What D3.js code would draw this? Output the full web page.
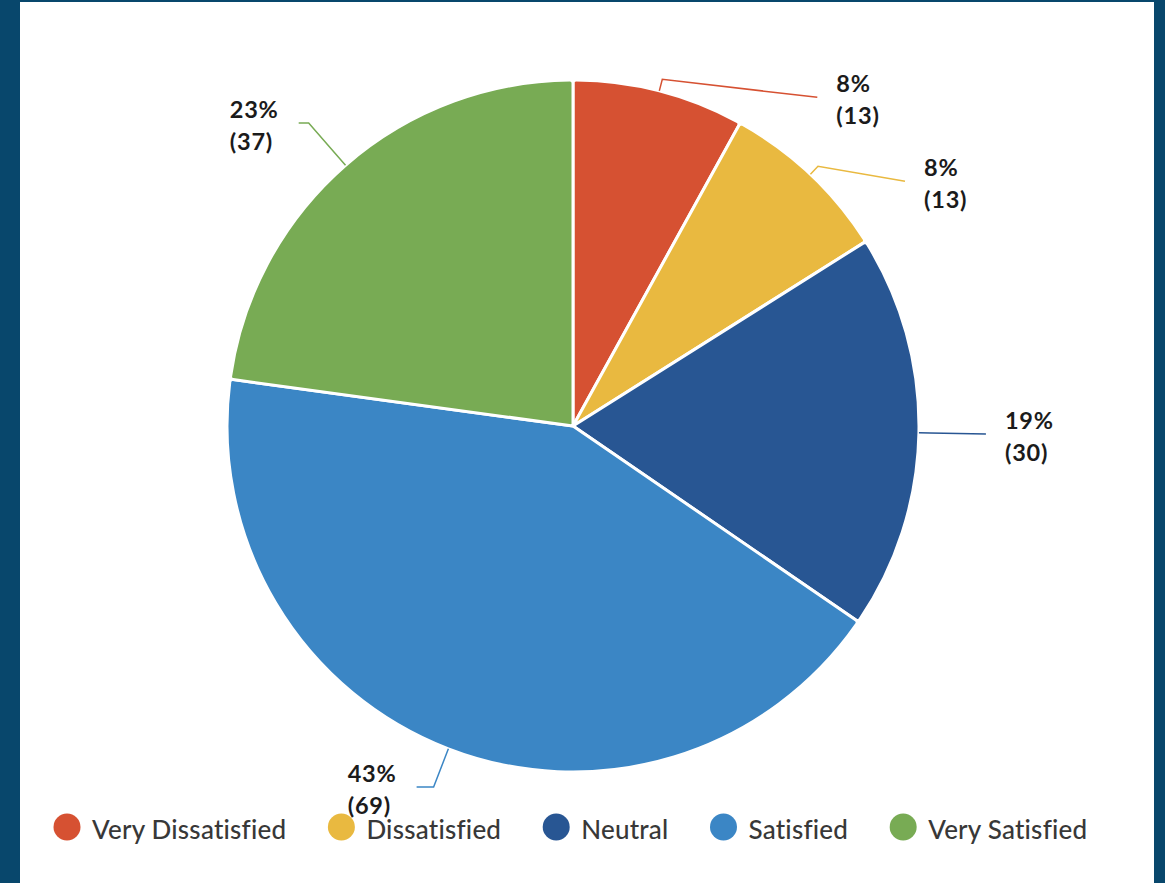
<!DOCTYPE html>
<html>
<head>
<meta charset="utf-8">
<script src="https://cdn.jsdelivr.net/npm/d3@7"></script>
<style>
  html, body { margin: 0; padding: 0; background: #08476c; }
  svg { display: block; }
  text { font-variant-ligatures: none; }
</style>
</head>
<body>
<svg id="chart" width="1165" height="883"></svg>
<script>
// Satisfaction survey responses
const categories = ["Very Dissatisfied", "Dissatisfied", "Neutral", "Satisfied", "Very Satisfied"];
const counts = [13, 13, 30, 69, 37];
const colors = ["#d65132", "#e9b940", "#285693", "#3b86c5", "#78ab54"];

// Leader-line routing per slice: radial extension past the rim, then the tail offset
const leaderExt = [12, 11, 11, 41, 56];
const leaderTail = [[155, 18], [87, 15], [56, 1], [-17, 0], [-10, 0]];

const W = 1165, H = 883;
const svg = d3.select("#chart");

// white card
svg.append("rect").attr("x", 20).attr("y", 2).attr("width", 1134).attr("height", H - 2).attr("fill", "#ffffff");

const cx = 573, cy = 426, R = 346;
const total = d3.sum(counts);
const data = categories.map((c, i) => ({ name: c, value: counts[i], color: colors[i], i }));

const pie = d3.pie().value(d => d.value).sort(null);
const arcs = pie(data);
const arc = d3.arc().innerRadius(0).outerRadius(R).cornerRadius(3);

const g = svg.append("g").attr("transform", `translate(${cx},${cy})`);

g.selectAll("path.slice")
  .data(arcs)
  .join("path")
  .attr("class", "slice")
  .attr("d", arc)
  .attr("fill", d => d.data.color)
  .attr("stroke", "#ffffff")
  .attr("stroke-width", 3)
  .attr("stroke-linejoin", "round");

const fmtPct = v => Math.round(v / total * 100) + "%";

// legend
const legend = svg.append("g");
let x = 67;
const ly = 827;
data.forEach(d => {
  legend.append("circle").attr("cx", x).attr("cy", ly).attr("r", 13.5).attr("fill", d.color);
  const t = legend.append("text")
    .attr("x", x + 25)
    .attr("y", ly + 12)
    .attr("font-family", "Lato, 'Open Sans', sans-serif")
    .attr("font-weight", 500)
    .attr("font-size", 26)
    .attr("letter-spacing", 0.22)
    .attr("fill", "#383838")
    .text(d.name);
  x = x + 25 + t.node().getComputedTextLength() + 55;
});

// value labels with leader lines, drawn over the legend
const labels = svg.append("g").attr("transform", `translate(${cx},${cy})`);
arcs.forEach((a, i) => {
  const mid = (a.startAngle + a.endAngle) / 2;
  const p = r => [Math.sin(mid) * r, -Math.cos(mid) * r];
  const p0 = p(R);
  const p1 = p(R + leaderExt[i]);
  const p2 = [p1[0] + leaderTail[i][0], p1[1] + leaderTail[i][1]];
  labels.append("path")
    .attr("d", d3.line()([p0, p1, p2]))
    .attr("fill", "none")
    .attr("stroke", a.data.color)
    .attr("stroke-width", 1.5);

  const right = p2[0] >= p1[0];
  const lbl = labels.append("g");
  const lines = [fmtPct(a.data.value), "(" + a.data.value + ")"];
  const texts = lbl.selectAll("text").data(lines).join("text")
    .attr("x", 0)
    .attr("y", (d, k) => k * 32)
    .attr("font-family", "Lato, 'Open Sans', sans-serif")
    .attr("font-weight", 700)
    .attr("font-size", 23.5)
    .attr("letter-spacing", 0.8)
    .attr("fill", "#1b1b1b")
    .text(d => d);
  let bw = 0;
  texts.each(function () { bw = Math.max(bw, this.getComputedTextLength()); });
  const tx = right ? p2[0] + 19 : p2[0] - 20 - bw;
  lbl.attr("transform", `translate(${tx},${p2[1] - 5})`);
});
</script>
</body>
</html>
